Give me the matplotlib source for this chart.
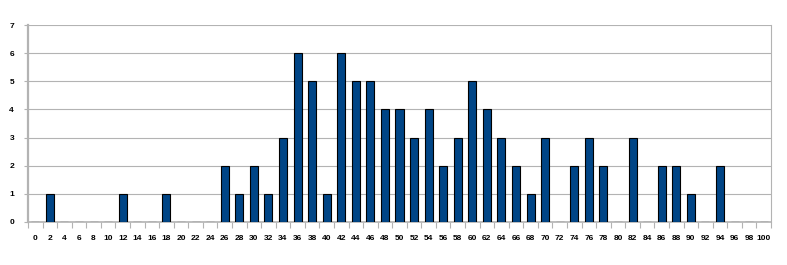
import numpy as np
import matplotlib.pyplot as plt

# histogram counts, one bin every 2 units from 0 to 100
bins = list(range(0, 101, 2))
counts = [0, 1, 0, 0, 0, 0, 1, 0, 0, 1,
          0, 0, 0, 2, 1, 2, 1, 3, 6, 5,
          1, 6, 5, 5, 4, 4, 3, 4, 2, 3,
          5, 4, 3, 2, 1, 3, 0, 2, 3, 2,
          0, 3, 0, 2, 2, 1, 0, 2, 0, 0,
          0]
yticks = list(range(0, 8))

plt.rcParams['font.family'] = ['Liberation Sans', 'DejaVu Sans']

fig = plt.figure(figsize=(7.87, 2.65), dpi=100)
ax = fig.add_axes([28/787, 1 - 222/265, (771 - 28)/787, (222 - 25)/265])

x = np.arange(len(bins))
ax.bar(x, counts, width=0.55, color='#004586', edgecolor='black', linewidth=0.8, zorder=3)

ax.set_xlim(-0.5, len(bins) - 0.5)
ax.set_ylim(0, 7)
ax.set_xticks(x)
ax.set_xticklabels([str(b) for b in bins], fontweight='bold')
ax.set_xticks(np.arange(-0.5, len(bins), 1), minor=True)
ax.tick_params(axis='x', which='major', length=0, labelsize=6, pad=9)
ax.tick_params(axis='x', which='minor', length=4, color='#b3b3b3', width=0.8)
ax.set_yticks(yticks)
ax.set_yticklabels([str(v) for v in yticks], fontweight='bold')
ax.tick_params(axis='y', length=3, color='#b3b3b3', width=0.8, labelsize=6, pad=7)

ax.grid(axis='y', color='#b3b3b3', linewidth=0.8, zorder=0)
for side in ['left', 'bottom', 'right']:
    ax.spines[side].set_color('#b3b3b3')
ax.spines['left'].set_linewidth(1.6)
ax.spines['bottom'].set_linewidth(1.2)
ax.spines['right'].set_linewidth(0.8)
ax.spines['top'].set_visible(False)

fig.savefig('out.png', dpi=100)
